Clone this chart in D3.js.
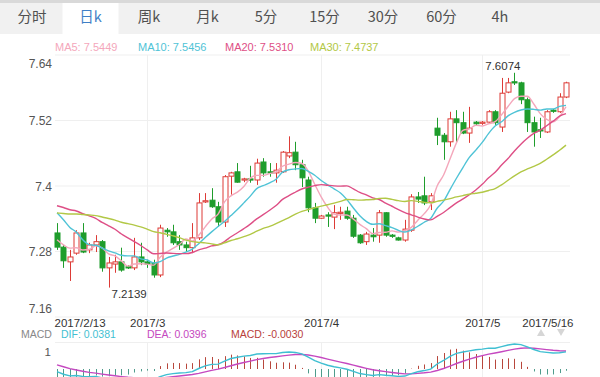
<!DOCTYPE html>
<html><head><meta charset="utf-8">
<script src="https://cdn.jsdelivr.net/npm/d3@7"></script>
<style>
body{margin:0;background:#fff}
svg{display:block;font-family:"Liberation Sans",Arial,"Noto Sans CJK SC",sans-serif}
</style>
</head><body>
<svg id="c" width="600" height="377"></svg>
<script>
// ---------------- data ----------------
const tabs = ["分时","日k","周k","月k","5分","15分","30分","60分","4h"];
const activeTab = "日k";

const dates = [
"2017/2/13","2017/2/14","2017/2/15","2017/2/16","2017/2/17","2017/2/19","2017/2/20","2017/2/21","2017/2/22","2017/2/23","2017/2/24","2017/2/26","2017/2/27","2017/2/28",
"2017/3/1","2017/3/2","2017/3/3","2017/3/5","2017/3/6","2017/3/7","2017/3/8","2017/3/9","2017/3/10","2017/3/12","2017/3/13","2017/3/14","2017/3/15","2017/3/16","2017/3/17","2017/3/19","2017/3/20","2017/3/21","2017/3/22","2017/3/23","2017/3/24","2017/3/26","2017/3/27","2017/3/28","2017/3/29","2017/3/30","2017/3/31",
"2017/4/2","2017/4/3","2017/4/4","2017/4/5","2017/4/6","2017/4/7","2017/4/9","2017/4/10","2017/4/11","2017/4/12","2017/4/13","2017/4/14","2017/4/16","2017/4/17","2017/4/18","2017/4/19","2017/4/20","2017/4/21","2017/4/23","2017/4/24","2017/4/25","2017/4/26","2017/4/27","2017/4/28","2017/4/30",
"2017/5/1","2017/5/2","2017/5/3","2017/5/4","2017/5/5","2017/5/7","2017/5/8","2017/5/9","2017/5/10","2017/5/11","2017/5/12","2017/5/14","2017/5/15","2017/5/16"];

const open = [7.314,7.288,7.261,7.277,7.314,7.283,7.292,7.298,7.250,7.257,7.261,7.252,7.250,7.270,7.261,7.259,7.237,7.319,7.316,7.298,
7.292,7.287,7.305,7.371,7.374,7.362,7.334,7.418,7.426,7.411,7.413,7.411,7.444,7.426,7.424,7.426,7.455,7.462,7.439,7.411,
7.360,7.341,7.347,7.343,7.351,7.354,7.341,7.310,7.298,7.310,7.310,7.351,7.310,7.305,7.301,7.319,7.380,7.382,7.371,7.506,
7.493,7.481,7.523,7.516,7.497,7.517,7.516,7.517,7.536,7.508,7.572,7.591,7.589,7.558,7.516,7.503,7.499,7.539,7.536,7.563];
const close = [7.288,7.263,7.270,7.314,7.279,7.292,7.298,7.250,7.259,7.261,7.246,7.250,7.270,7.261,7.257,7.237,7.323,7.316,7.296,7.292,
7.287,7.305,7.369,7.373,7.362,7.334,7.417,7.424,7.407,7.413,7.411,7.442,7.424,7.424,7.429,7.462,7.461,7.439,7.415,7.360,
7.341,7.345,7.345,7.351,7.352,7.341,7.308,7.296,7.312,7.307,7.351,7.310,7.309,7.301,7.321,7.380,7.376,7.369,7.382,7.493,
7.481,7.523,7.516,7.497,7.506,7.514,7.517,7.536,7.516,7.570,7.589,7.589,7.558,7.516,7.499,7.501,7.536,7.537,7.563,7.589];
const low = [7.283,7.250,7.226,7.274,7.277,7.277,7.279,7.243,7.2139,7.241,7.243,7.248,7.246,7.255,7.250,7.232,7.233,7.307,7.292,7.283,
7.279,7.277,7.301,7.369,7.360,7.325,7.325,7.384,7.406,7.407,7.406,7.402,7.417,7.417,7.406,7.424,7.451,7.429,7.398,7.352,
7.332,7.340,7.325,7.321,7.338,7.338,7.305,7.294,7.292,7.298,7.296,7.307,7.305,7.300,7.298,7.316,7.369,7.365,7.356,7.475,
7.448,7.472,7.481,7.495,7.479,7.510,7.512,7.515,7.512,7.499,7.570,7.585,7.550,7.499,7.472,7.488,7.497,7.534,7.534,7.561];
const high = [7.332,7.292,7.283,7.319,7.332,7.296,7.310,7.301,7.270,7.274,7.287,7.255,7.305,7.296,7.265,7.265,7.329,7.323,7.329,7.310,
7.298,7.332,7.387,7.387,7.396,7.371,7.420,7.426,7.442,7.415,7.437,7.450,7.451,7.442,7.442,7.464,7.491,7.481,7.448,7.417,
7.369,7.347,7.352,7.365,7.362,7.362,7.347,7.312,7.316,7.323,7.356,7.352,7.312,7.307,7.338,7.385,7.389,7.417,7.387,7.525,
7.497,7.536,7.539,7.536,7.545,7.519,7.519,7.539,7.539,7.598,7.598,7.6074,7.591,7.562,7.527,7.525,7.539,7.541,7.570,7.591];
// closes before 2017/2/13 (not drawn, only feed the moving averages / MACD), estimated from the MA lines
const earlierCloses = [7.29,7.30,7.31,7.31,7.32,7.33,7.33,7.34,7.35,7.36,
7.33,7.35,7.36,7.38,7.37,7.39,7.40,7.38,7.39,7.42,
7.39,7.41,7.40,7.42,7.38,7.31,7.30,7.31,7.30];

const yTicks = [7.64,7.52,7.4,7.28,7.16];
const yTickLabels = ["7.64","7.52","7.4","7.28","7.16"];
const xTickDates = ["2017/2/13","2017/3/1","2017/4/2","2017/5/1","2017/5/16"];
const xTickLabels = ["2017/2/13","2017/3","2017/4","2017/5","2017/5/16"];
const monthStarts = ["2017/3/1","2017/4/2","2017/5/1"];

const maPeriods = [5,10,20,30];
const maNames = ["MA5","MA10","MA20","MA30"];
const maLegendValues = ["7.5449","7.5456","7.5310","7.4737"];
const maColors = ["#f4a7bb","#4fc3d6","#de4f86","#b2c846"];

const macdLegend = ["MACD","DIF: 0.0381","DEA: 0.0396","MACD: -0.0030"];
const macdLegendColors = ["#888","#3fbfd2","#c548c0","#b8413a"];
const macdAxisLabel = "1";
const highLabel = "7.6074", lowLabel = "7.2139";

// ---------------- drawing ----------------
const svg = d3.select("#c");
const font = '"Liberation Sans",Arial,"Noto Sans CJK SC",sans-serif';
const cjk = '"Noto Sans CJK SC","Liberation Sans",sans-serif';

// tab bar
svg.append("rect").attr("x",0).attr("y",0).attr("width",600).attr("height",34).attr("fill","#f1f1f1");
svg.append("rect").attr("x",0).attr("y",0).attr("width",600).attr("height",3).attr("fill","#d9d9d9");
const tx = d3.scalePoint().domain(tabs).range([32,500]);
svg.append("rect").attr("x",tx(activeTab)-28).attr("y",3).attr("width",56).attr("height",31).attr("fill","#fff");
svg.selectAll("text.tab").data(tabs).join("text").attr("class","tab")
  .attr("x",d=>tx(d)).attr("y",22).attr("text-anchor","middle")
  .attr("font-family",cjk).attr("font-size",14.5)
  .attr("fill",d=>d===activeTab?"#3f7fc6":"#505050").text(d=>d);

const x = d3.scalePoint().domain(dates).range([57,566]);
const y = d3.scaleLinear().domain([7.16,7.64]).range([317,55]);
const left = 55, right = 570;

// grid
svg.append("g").selectAll("line").data(yTicks).join("line")
  .attr("x1",left).attr("x2",right).attr("y1",d=>y(d)).attr("y2",d=>y(d))
  .attr("stroke","#efefef").attr("stroke-width",1);
svg.append("g").selectAll("line").data(monthStarts).join("line")
  .attr("x1",d=>Math.round(x(d))+0.5).attr("x2",d=>Math.round(x(d))+0.5).attr("y1",55).attr("y2",317)
  .attr("stroke","#efefef");
svg.append("g").selectAll("line").data(monthStarts).join("line")
  .attr("x1",d=>Math.round(x(d))+0.5).attr("x2",d=>Math.round(x(d))+0.5).attr("y1",342).attr("y2",377)
  .attr("stroke","#efefef");

// y axis
const ya = svg.append("g").attr("transform",`translate(${left-3},0)`)
  .call(d3.axisLeft(y).tickValues(yTicks).tickSize(0).tickPadding(0).tickFormat((d,i)=>yTickLabels[i]));
ya.select(".domain").remove();
ya.selectAll("text").attr("font-family",font).attr("font-size",12).attr("fill","#555")
  .attr("dy",(d,i)=> i===0 ? "1.05em" : (i===yTicks.length-1 ? "-0.35em" : "0.35em"));

// x axis
const xa = svg.append("g").attr("transform","translate(0,318)")
  .call(d3.axisBottom(x).tickValues(xTickDates).tickSize(0).tickPadding(0).tickFormat((d,i)=>xTickLabels[i]));
xa.select(".domain").remove();
xa.selectAll("text").attr("font-family",font).attr("font-size",11.5).attr("fill","#333").attr("dy","0.75em")
  .attr("text-anchor",(d,i)=> i===0 ? "start" : (i===xTickDates.length-1 ? "end" : "middle"))
  .attr("dx",(d,i)=> i===0 ? -3 : (i===xTickDates.length-1 ? 7 : 0));

// candles
const red = "#dd3b36", green = "#1f9d2c";
const idx = d3.range(dates.length);
const cg = svg.append("g");
cg.selectAll("line").data(idx).join("line")
  .attr("x1",i=>Math.round(x(dates[i]))+0.5).attr("x2",i=>Math.round(x(dates[i]))+0.5)
  .attr("y1",i=>y(high[i])).attr("y2",i=>y(low[i]))
  .attr("stroke",i=>close[i]>=open[i]?red:green).attr("stroke-width",1);
cg.selectAll("rect").data(idx).join("rect")
  .attr("x",i=>Math.round(x(dates[i]))-2)
  .attr("width",5)
  .attr("y",i=>y(Math.max(open[i],close[i])))
  .attr("height",i=>Math.max(1.2,Math.abs(y(open[i])-y(close[i]))))
  .attr("fill",i=>close[i]>=open[i]?"#fff":green)
  .attr("stroke",i=>close[i]>=open[i]?red:green).attr("stroke-width",1);

// moving averages
const all = earlierCloses.concat(close);
const off = earlierCloses.length;
maPeriods.forEach((n,k)=>{
  const vals = idx.map(i=>d3.mean(all.slice(i+off-n+1,i+off+1)));
  svg.append("path").datum(idx)
    .attr("d",d3.line().x(i=>x(dates[i])).y(i=>y(vals[i])).curve(d3.curveMonotoneX))
    .attr("fill","none").attr("stroke",maColors[k]).attr("stroke-width",1.4);
});

// high / low labels
const hi = d3.maxIndex(high), lo = d3.minIndex(low);
svg.append("text").attr("x",x(dates[hi])+6).attr("y",y(high[hi])-3).attr("text-anchor","end")
  .attr("font-family",font).attr("font-size",11.5).attr("fill","#333").text(highLabel);
svg.append("text").attr("x",x(dates[lo])+3).attr("y",y(low[lo])+10).attr("text-anchor","start")
  .attr("font-family",font).attr("font-size",11.5).attr("fill","#333").text(lowLabel);

// MA legend
const mlx = [55,138,225,310];
svg.selectAll("text.mal").data(maNames).join("text").attr("class","mal")
  .attr("x",(d,i)=>mlx[i]).attr("y",51).attr("font-family",font).attr("font-size",11)
  .attr("fill",(d,i)=>maColors[i]).text((d,i)=>d+": "+maLegendValues[i]);

// MACD
function ema(arr,n){const k=2/(n+1);const o=[];arr.forEach((v,i)=>o.push(i?o[i-1]+k*(v-o[i-1]):v));return o;}
const e12 = ema(all,12), e26 = ema(all,26);
const difAll = all.map((v,i)=>e12[i]-e26[i]);
const deaAll = ema(difAll,9);
const dif = difAll.slice(off), dea = deaAll.slice(off);
const bar = dif.map((v,i)=>2*(v-dea[i]));
const mx = d3.max(dif.concat(dea).concat(bar));
const yM = d3.scaleLinear().domain([0,mx]).range([369,344]);

const mlxs = [21,61,147,231];
svg.selectAll("text.mcl").data(macdLegend).join("text").attr("class","mcl")
  .attr("x",(d,i)=>mlxs[i]).attr("y",338).attr("font-family",font).attr("font-size",10.5)
  .attr("fill",(d,i)=>macdLegendColors[i]).text(d=>d);
// small arrows
svg.append("path").attr("d","M541,329 L545,336 L537,336 Z").attr("fill","#d6d6d6");
svg.append("path").attr("d","M557,329 L565,329 L561,336 Z").attr("fill","#d6d6d6");

svg.append("line").attr("x1",left).attr("x2",right).attr("y1",342.5).attr("y2",342.5).attr("stroke","#efefef");
svg.append("text").attr("x",51).attr("y",yM(mx*0.7)+4).attr("text-anchor","end")
  .attr("font-family",font).attr("font-size",11.5).attr("fill","#555").text(macdAxisLabel);

svg.append("defs").append("clipPath").attr("id","mc").append("rect")
  .attr("x",left).attr("y",343).attr("width",right-left).attr("height",40);
const mg = svg.append("g").attr("clip-path","url(#mc)");
mg.selectAll("line").data(idx).join("line")
  .attr("x1",i=>Math.round(x(dates[i]))+0.5).attr("x2",i=>Math.round(x(dates[i]))+0.5)
  .attr("y1",yM(0)).attr("y2",i=>yM(bar[i]))
  .attr("stroke",i=>bar[i]>=0?"#b8473c":"#4f9c8c").attr("stroke-width",1);
mg.append("path").datum(idx).attr("d",d3.line().x(i=>x(dates[i])).y(i=>yM(dea[i])))
  .attr("fill","none").attr("stroke","#c548c0").attr("stroke-width",1.4);
mg.append("path").datum(idx).attr("d",d3.line().x(i=>x(dates[i])).y(i=>yM(dif[i])))
  .attr("fill","none").attr("stroke","#3fbfd2").attr("stroke-width",1.4);
</script>
</body></html>
